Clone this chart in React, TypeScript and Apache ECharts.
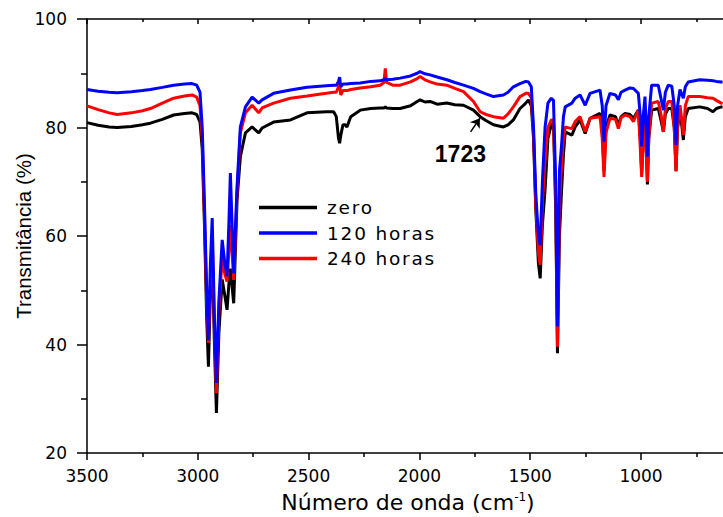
import React, { useEffect, useRef } from "react";
import * as echarts from "echarts";

// Wavenumber (cm-1), descending
const wavenumber = [
  3500, 3450, 3400, 3364, 3300, 3250, 3214, 3160, 3109, 3060, 3026, 3005, 2990, 2980, 2970, 2960, 2952, 2943, 2935, 2925,
  2916, 2905, 2890, 2878, 2868, 2860, 2853, 2838, 2823, 2808, 2785, 2755, 2725, 2710, 2658, 2582, 2507, 2420, 2387, 2375,
  2365, 2360, 2355, 2345, 2335, 2327, 2310, 2267, 2220, 2177, 2160, 2154, 2148, 2120, 2087, 2040, 2010, 1997, 1975, 1952,
  1920, 1876, 1840, 1801, 1756, 1726, 1700, 1666, 1621, 1600, 1576, 1546, 1520, 1508, 1495, 1485, 1475, 1463, 1455, 1445,
  1433, 1420, 1405, 1395, 1385, 1377, 1368, 1360, 1350, 1342, 1312, 1297, 1275, 1252, 1230, 1185, 1175, 1167, 1158, 1140,
  1115, 1102, 1090, 1072, 1050, 1034, 1012, 1003, 997, 990, 982, 975, 971, 965, 952, 922, 908, 899, 890, 877,
  861, 850, 842, 835, 824, 815, 809, 800, 787, 735, 700, 675, 660, 638, 632,
];

// Transmittance (%) — zero
const zero = [
  80.9, 80.4, 80.1, 80.0, 80.2, 80.5, 80.8, 81.5, 82.3, 82.6, 82.7, 82.4, 81.0, 76.0, 62.0, 45.0, 35.9, 50.0, 57.0, 40.0,
  27.4, 42.0, 52.0, 49.0, 46.4, 51.0, 54.0, 47.6, 66.6, 74.6, 79.0, 80.1, 79.0, 79.9, 81.0, 81.4, 82.7, 82.9, 82.9, 82.0,
  78.0, 77.1, 78.5, 80.5, 80.5, 80.1, 82.0, 83.2, 83.5, 83.6, 83.6, 83.8, 83.6, 83.5, 83.5, 84.0, 84.8, 85.1, 84.7, 84.8,
  84.3, 84.5, 84.2, 84.1, 83.2, 82.0, 81.3, 80.5, 80.1, 80.5, 81.4, 83.5, 84.5, 85.1, 84.0, 78.0, 65.0, 55.0, 52.2, 62.0,
  68.5, 78.0, 80.5, 80.8, 65.0, 38.4, 60.0, 67.2, 75.0, 79.2, 78.6, 80.1, 81.4, 78.9, 81.7, 82.6, 80.0, 72.0, 80.0, 82.3,
  82.0, 80.5, 82.0, 82.6, 82.4, 81.7, 83.2, 78.0, 71.5, 78.0, 82.0, 75.0, 69.5, 78.0, 83.2, 83.5, 81.0, 79.2, 82.5, 83.5,
  83.5, 80.0, 72.0, 80.0, 83.2, 80.0, 77.7, 82.0, 83.5, 83.8, 83.5, 82.9, 83.5, 83.8, 83.8,
];

// Transmittance (%) — 120 horas
const h120 = [
  87.0, 86.7, 86.5, 86.4, 86.6, 86.8, 87.0, 87.4, 87.8, 88.0, 88.1, 87.8, 86.5, 80.0, 66.0, 50.0, 40.8, 55.0, 63.3, 45.0,
  32.9, 48.0, 59.3, 55.0, 52.6, 62.0, 71.6, 53.1, 69.0, 80.1, 83.8, 85.6, 84.5, 85.1, 86.3, 86.9, 87.4, 87.7, 87.8, 87.8,
  88.5, 89.3, 87.5, 88.0, 88.0, 88.0, 88.1, 88.2, 88.5, 88.6, 88.8, 89.0, 88.8, 88.9, 89.1, 89.5, 90.0, 90.3, 89.9, 89.7,
  89.3, 88.8, 88.3, 87.8, 87.2, 86.6, 86.2, 85.7, 86.0, 86.5, 87.5, 88.1, 88.5, 88.4, 87.5, 80.0, 68.0, 60.0, 58.3, 70.0,
  80.0, 84.5, 85.4, 85.0, 70.0, 43.3, 72.0, 75.9, 82.0, 83.8, 84.5, 85.4, 86.0, 84.1, 86.3, 86.9, 84.0, 77.4, 84.0, 86.3,
  86.0, 85.1, 86.5, 86.9, 87.3, 87.2, 86.3, 82.0, 76.5, 82.0, 85.7, 78.0, 74.6, 82.0, 87.8, 87.8, 85.0, 83.2, 86.5, 87.8,
  87.6, 84.0, 76.8, 84.0, 87.0, 86.0, 85.4, 87.5, 88.4, 88.8, 88.7, 88.6, 88.5, 88.4, 88.4,
];

// Transmittance (%) — 240 horas
const h240 = [
  84.0, 83.3, 82.7, 82.4, 82.7, 83.1, 83.5, 84.5, 85.4, 85.8, 86.0, 85.6, 84.0, 78.0, 64.0, 48.0, 40.3, 52.0, 60.0, 43.0,
  31.0, 46.0, 56.0, 53.0, 51.6, 57.0, 62.0, 51.9, 68.0, 79.0, 82.7, 84.1, 82.7, 83.6, 84.5, 85.4, 85.8, 86.3, 86.5, 86.5,
  87.5, 88.2, 86.0, 86.8, 86.8, 86.8, 87.0, 87.3, 87.5, 87.8, 88.3, 90.9, 88.3, 87.8, 87.8, 88.4, 89.0, 89.4, 88.8, 88.4,
  88.0, 87.8, 87.2, 86.6, 84.8, 82.9, 82.4, 82.0, 81.7, 82.5, 83.8, 85.7, 86.3, 86.3, 85.5, 79.0, 66.0, 57.0, 54.7, 66.0,
  74.0, 80.0, 81.4, 81.4, 67.0, 39.6, 65.0, 72.0, 78.0, 80.1, 79.8, 81.1, 82.0, 79.2, 81.7, 82.0, 78.0, 70.9, 79.0, 81.7,
  81.5, 79.8, 81.8, 82.3, 82.0, 81.1, 83.2, 76.0, 70.9, 77.0, 82.0, 74.0, 70.0, 78.0, 84.5, 84.8, 82.0, 79.2, 83.5, 84.8,
  84.8, 80.0, 71.9, 80.0, 84.1, 81.0, 78.6, 84.0, 85.7, 85.7, 85.5, 85.4, 85.0, 84.5, 84.4,
];

const seriesNames = ["zero", "120 horas", "240 horas"];
const seriesColors = ["#000000", "#0000ff", "#ff0000"];
const xMajorTicks = [3500, 3000, 2500, 2000, 1500, 1000];
const xMinorTicks = [3250, 2750, 2250, 1750, 1250, 750];
const xRange = [630, 3500];
const peakLabel = "1723";
const arrowTip = [1727, 81.7];
const arrowTail = [1769, 79.2];
const peakTextAt = [1815, 75.2];

export default function App() {
  const ref = useRef<HTMLDivElement>(null);

  useEffect(() => {
    document.body.style.margin = "0";
    const el = ref.current!;
    const chart = echarts.init(el, null, { renderer: "svg" });

    const tickFont = "DejaVu Sans";
    const axisLineStyle = { color: "#000", width: 1.5 };
    const pairs = (vals: number[]) => wavenumber.map((w, i) => [w, vals[i]]);

    chart.on("finished", () => {
      el.querySelectorAll("text").forEach((t) => {
        if (seriesNames.includes(t.textContent || "")) t.setAttribute("letter-spacing", "1.8");
      });
    });

    const baseX = {
      type: "value",
      inverse: true,
      min: xRange[0],
      max: xRange[1],
      splitLine: { show: false },
    };

    chart.setOption({
      animation: false,
      backgroundColor: "#ffffff",
      grid: { left: 87, top: 19, right: 0, height: 434, containLabel: false, outerBoundsMode: "none" },
      legend: {
        orient: "vertical",
        left: 259,
        top: 198,
        padding: 0,
        itemWidth: 58,
        itemHeight: 3.5,
        itemGap: 6.5,
        icon: "rect",
        data: seriesNames,
        textStyle: { fontFamily: tickFont, fontSize: 18.5, color: "#000", padding: [0, 0, 0, 5] },
      },
      xAxis: [
        {
          ...baseX,
          position: "bottom",
          axisLine: { show: true, onZero: false, lineStyle: axisLineStyle },
          axisTick: { show: true, inside: false, length: 7, lineStyle: axisLineStyle, customValues: xMajorTicks },
          axisLabel: {
            fontFamily: tickFont,
            fontSize: 17,
            color: "#000",
            margin: 14,
            customValues: xMajorTicks,
            formatter: (v: number) => String(v),
          },
          name: "Número de onda (cm{sup|-1})",
          nameLocation: "middle",
          nameGap: 38,
          nameMoveOverlap: false,
          nameTextStyle: {
            fontFamily: tickFont,
            fontSize: 22,
            color: "#000",
            padding: [0, 0, 0, 6],
            rich: {
              sup: { fontFamily: tickFont, fontSize: 12, color: "#000", verticalAlign: "top" },
            },
          },
        },
        {
          ...baseX,
          position: "bottom",
          axisLine: { show: false },
          axisTick: { show: true, inside: false, length: 4, lineStyle: axisLineStyle, customValues: xMinorTicks },
          axisLabel: { show: false },
        },
        {
          ...baseX,
          position: "top",
          axisLine: { show: true, onZero: false, lineStyle: axisLineStyle },
          axisTick: { show: true, inside: true, length: 5, lineStyle: axisLineStyle, customValues: xMajorTicks },
          axisLabel: { show: false },
        },
        {
          ...baseX,
          position: "top",
          axisLine: { show: false },
          axisTick: { show: true, inside: true, length: 3, lineStyle: axisLineStyle, customValues: xMinorTicks },
          axisLabel: { show: false },
        },
      ],
      yAxis: {
        type: "value",
        min: 20,
        max: 100,
        interval: 20,
        position: "left",
        axisLine: { show: true, onZero: false, lineStyle: axisLineStyle },
        axisTick: { show: true, inside: false, length: 10, lineStyle: axisLineStyle },
        minorTick: { show: true, splitNumber: 2, length: 6, lineStyle: axisLineStyle },
        splitLine: { show: false },
        axisLabel: { fontFamily: tickFont, fontSize: 17, color: "#000", margin: 20 },
        name: "Transmitância (%)",
        nameLocation: "middle",
        nameGap: 53,
        nameMoveOverlap: false,
        nameTextStyle: { fontFamily: "Liberation Sans", fontSize: 20.5, color: "#000" },
      },
      series: [
        {
          name: seriesNames[0],
          type: "line",
          xAxisIndex: 0,
          data: pairs(zero),
          showSymbol: false,
          symbol: "none",
          z: 2,
          color: seriesColors[0],
          lineStyle: { color: seriesColors[0], width: 3 },
          markLine: {
            silent: true,
            animation: false,
            symbol: ["none", "arrow"],
            symbolSize: 9,
            lineStyle: { color: "#000", width: 1.5, type: "solid" },
            label: { show: false },
            data: [[{ coord: arrowTail }, { coord: arrowTip }]],
          },
          markPoint: {
            silent: true,
            animation: false,
            symbol: "circle",
            symbolSize: 1,
            itemStyle: { color: "rgba(0,0,0,0)" },
            label: {
              show: true,
              position: "inside",
              formatter: peakLabel,
              fontFamily: "Liberation Sans",
              fontWeight: "bold",
              fontSize: 23,
              color: "#000",
            },
            data: [{ coord: peakTextAt, value: peakLabel }],
          },
        },
        {
          name: seriesNames[1],
          type: "line",
          xAxisIndex: 0,
          data: pairs(h120),
          showSymbol: false,
          symbol: "none",
          z: 4,
          color: seriesColors[1],
          lineStyle: { color: seriesColors[1], width: 3 },
        },
        {
          name: seriesNames[2],
          type: "line",
          xAxisIndex: 0,
          data: pairs(h240),
          showSymbol: false,
          symbol: "none",
          z: 3,
          color: seriesColors[2],
          lineStyle: { color: seriesColors[2], width: 3 },
        },
      ],
    });

    return () => {
      chart.dispose();
    };
  }, []);

  return <div ref={ref} style={{ width: 723, height: 517, overflow: "hidden" }} />;
}
